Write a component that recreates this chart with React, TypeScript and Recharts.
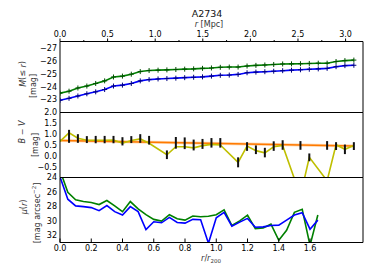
import React from 'react';
import { LineChart, Line, XAxis, YAxis, ErrorBar } from 'recharts';

const FONT = '"DejaVu Sans", sans-serif';

// ---- data ----
const mpcBins = [0, 0.095, 0.188, 0.282, 0.375, 0.469, 0.562, 0.656, 0.749, 0.843, 0.936, 1.03, 1.123, 1.217, 1.31, 1.404, 1.497, 1.591, 1.684, 1.778, 1.871, 1.965, 2.058, 2.152, 2.245, 2.339, 2.432, 2.526, 2.619, 2.713, 2.806, 2.9, 2.993, 3.087];
const magGreen = [-23.5, -23.65, -23.9, -24.05, -24.25, -24.45, -24.75, -24.82, -24.97, -25.17, -25.25, -25.28, -25.3, -25.33, -25.36, -25.38, -25.42, -25.45, -25.5, -25.52, -25.52, -25.6, -25.65, -25.68, -25.72, -25.76, -25.77, -25.78, -25.8, -25.82, -25.82, -25.95, -26.02, -26.06];
const magBlue = [-22.95, -23.1, -23.28, -23.45, -23.6, -23.78, -24.05, -24.12, -24.25, -24.45, -24.55, -24.6, -24.63, -24.66, -24.7, -24.73, -24.76, -24.82, -24.88, -24.9, -24.95, -25.08, -25.13, -25.16, -25.2, -25.24, -25.28, -25.31, -25.35, -25.38, -25.42, -25.55, -25.63, -25.66];
const bvColour = [0.67, 1.06, 0.81, 0.72, 0.72, 0.72, 0.73, 0.58, 0.71, 0.78, 0.58, null, 0.05, 0.42, 0.42, 0.37, 0.47, 0.53, 0.5, null, -0.3, 0.45, 0.24, 0.14, 0.42, 0.48, null, -1.85, -0.07, null, -1.15, 0.51, 0.3, 0.48];
const bvErrCentre = [null, 0.9, 0.8, 0.75, 0.75, 0.75, 0.75, 0.67, 0.75, 0.8, 0.72, null, 0.05, 0.6, 0.58, 0.5, 0.55, 0.6, 0.6, null, -0.3, 0.43, 0.28, 0.15, 0.45, 0.5, null, 0.48, -0.07, null, 0.48, 0.45, 0.3, 0.45];
const bvErrHalf = [null, 0.3, 0.2, 0.16, 0.17, 0.17, 0.17, 0.19, 0.16, 0.2, 0.2, null, 0.2, 0.27, 0.27, 0.25, 0.23, 0.22, 0.22, null, 0.23, 0.2, 0.2, 0.22, 0.22, 0.22, null, 0.2, 0.18, null, 0.2, 0.18, 0.22, 0.18];
const fitMpc = [0, 3.087];
const fitBV = [0.71, 0.45];
const r200Bins = [0, 0.05, 0.1, 0.15, 0.2, 0.25, 0.3, 0.35, 0.4, 0.45, 0.5, 0.55, 0.6, 0.65, 0.7, 0.75, 0.8, 0.85, 0.9, 0.95, 1.0, 1.05, 1.1, 1.15, 1.2, 1.25, 1.3, 1.35, 1.4, 1.45, 1.5, 1.55, 1.6, 1.65];
const muGreen = [23.0, 26.06, 27.09, 27.33, 27.47, 27.75, 27.19, 27.93, 28.73, 27.33, 28.35, 29.15, 29.8, 30.04, 29.15, 29.71, 29.9, 29.34, 29.43, 29.37, 29.15, 28.49, 30.65, 30.0, 29.2, 31.07, 30.98, 30.46, 32.7, 31.3, 28.82, 28.4, 33.4, 29.2];
const muBlue = [23.9, 27.0, 27.93, 28.03, 28.17, 28.59, 27.89, 28.73, 29.2, 28.03, 28.73, 31.2, 30.13, 30.27, 29.52, 30.22, 30.32, 29.8, 29.85, 33.1, 29.57, 28.82, 30.74, 30.18, 29.66, 30.88, 30.84, 30.65, 30.6, 29.9, 29.2, 28.87, 31.16, 29.9];

// ---- ticks ----
const mpcTicks = [0, 0.25, 0.5, 0.75, 1, 1.25, 1.5, 1.75, 2, 2.25, 2.5, 2.75, 3];
const edgeMajor = [0, 0.376, 0.752, 1.128, 1.504, 1.88, 2.256, 2.632, 3.008];
const edgeMinor = [0.188, 0.564, 0.94, 1.316, 1.692, 2.068, 2.444, 2.82];
const magTicks = [-27, -26, -25, -24, -23];
const bvTicks = [-0.5, 0, 0.5, 1, 1.5, 2];
const muTicks = [24, 26, 28, 30, 32];
const r200Ticks = [0, 0.2, 0.4, 0.6, 0.8, 1.0, 1.2, 1.4, 1.6];

const MPC_DOMAIN = [0, 3.183];
const R200_DOMAIN = [0, 1.939];

const topData = mpcBins.map((r, i) => ({ r, g: magGreen[i], b: magBlue[i] }));
const bvLine = mpcBins.map((r, i) => ({ r, v: bvColour[i] })).filter((d) => d.v !== null);
const bvErr = mpcBins.map((r, i) => ({ r, c: bvErrCentre[i], e: bvErrHalf[i] })).filter((d) => d.c !== null);
const fitData = fitMpc.map((r, i) => ({ r, v: fitBV[i] }));
const botData = r200Bins.map((r, i) => ({ r, g: muGreen[i], b: muBlue[i] }));

const fmt = (dec: number) => (v: number) => (v < 0 ? '\u2212' : '') + Math.abs(v).toFixed(dec);

const plus = (color: string) => (p: any) => {
  if (p.cx == null || p.cy == null) return <g key={`n${p.index}`} />;
  return (
    <path key={`m${p.index}`} d={`M${p.cx - 2.5},${p.cy}H${p.cx + 2.5}M${p.cx},${p.cy - 2.5}V${p.cy + 2.5}`} stroke={color} strokeWidth={1} fill="none" />
  );
};

const MpcTick = (p: any) => {
  const v = p.payload.value;
  const major = Math.abs(v * 2 - Math.round(v * 2)) < 1e-6;
  const axisY = p.y + 5;
  return (
    <g>
      <line x1={p.x} x2={p.x} y1={axisY} y2={axisY - (major ? 3 : 1.5)} stroke="#000" strokeWidth={1} />
      {major && (
        <text x={p.x} y={p.y} textAnchor="middle" fontSize={8} fontFamily={FONT} fill="#000">{v.toFixed(1)}</text>
      )}
    </g>
  );
};

const R200Tick = (p: any) => {
  const v = p.payload.value;
  const axisY = p.y - 8;
  return (
    <g>
      <line x1={p.x} x2={p.x} y1={axisY} y2={axisY - 4} stroke="#000" strokeWidth={1} />
      <text x={p.x} y={p.y} textAnchor="middle" fontSize={8} fontFamily={FONT} fill="#000">{v.toFixed(1)}</text>
    </g>
  );
};

const tickFont = { fontSize: 8, fill: '#000', fontFamily: FONT };
const black = { stroke: '#000', strokeWidth: 1 };

function edgeXAxes(withTop: boolean, withBottom: boolean) {
  const out: any[] = [];
  if (withTop) {
    out.push(<XAxis key="etA" xAxisId="etA" orientation="top" mirror type="number" domain={MPC_DOMAIN} allowDataOverflow ticks={edgeMajor} tick={false} tickSize={4} axisLine={black} tickLine={black} />);
    out.push(<XAxis key="etB" xAxisId="etB" orientation="top" mirror type="number" domain={MPC_DOMAIN} allowDataOverflow ticks={edgeMinor} tick={false} tickSize={2} axisLine={false} tickLine={black} />);
  }
  if (withBottom) {
    out.push(<XAxis key="ebA" xAxisId="ebA" orientation="bottom" mirror type="number" domain={MPC_DOMAIN} allowDataOverflow ticks={edgeMajor} tick={false} tickSize={4} axisLine={black} tickLine={black} />);
    out.push(<XAxis key="ebB" xAxisId="ebB" orientation="bottom" mirror type="number" domain={MPC_DOMAIN} allowDataOverflow ticks={edgeMinor} tick={false} tickSize={2} axisLine={false} tickLine={black} />);
  }
  return out;
}

function yAxes(id: string, domain: number[], ticks: number[], reversed: boolean, dec: number) {
  return [
    <YAxis key={id} yAxisId={id} type="number" domain={domain} reversed={reversed} allowDataOverflow ticks={ticks} width={60} tickLine={false} axisLine={false} tickSize={0} tickMargin={3} tick={tickFont} tickFormatter={fmt(dec)} interval={0} />,
    <YAxis key={id + 'L'} yAxisId={id + 'L'} type="number" domain={domain} reversed={reversed} allowDataOverflow ticks={ticks} mirror tick={false} tickSize={4} axisLine={black} tickLine={black} />,
    <YAxis key={id + 'R'} yAxisId={id + 'R'} orientation="right" type="number" domain={domain} reversed={reversed} allowDataOverflow ticks={ticks} mirror tick={false} tickSize={4} axisLine={black} tickLine={black} />,
  ];
}

const layer: React.CSSProperties = { position: 'absolute', left: 0, top: 0, width: 374, height: 280 };

export default function App() {
  return (
    <div style={{ position: 'absolute', left: 0, top: 0, width: 374, height: 280, background: '#fff', fontFamily: FONT }}>
      {/* top panel */}
      <div style={layer}>
        <LineChart width={374} height={280} data={topData} margin={{ top: 0, right: 11, bottom: 167.5, left: 0 }}>
          <XAxis xAxisId="mpc" orientation="top" type="number" dataKey="r" domain={MPC_DOMAIN} allowDataOverflow ticks={mpcTicks} height={41.5} tickSize={0} tickMargin={5} tickLine={false} axisLine={false} tick={<MpcTick />} interval={0} />
          {edgeXAxes(true, true)}
          {yAxes('mag', [-27.5, -22], magTicks, true, 0)}
          <Line xAxisId="mpc" yAxisId="mag" dataKey="g" stroke="#008000" strokeWidth={1.6} dot={plus('#005000')} isAnimationActive={false} />
          <Line xAxisId="mpc" yAxisId="mag" dataKey="b" stroke="#0000ff" strokeWidth={1.6} dot={plus('#000080')} isAnimationActive={false} />
        </LineChart>
      </div>
      {/* middle panel */}
      <div style={layer}>
        <LineChart width={374} height={280} margin={{ top: 112.5, right: 11, bottom: 102.5, left: 0 }}>
          <XAxis xAxisId="mpc" hide type="number" dataKey="r" domain={MPC_DOMAIN} allowDataOverflow />
          {edgeXAxes(true, true)}
          {yAxes('bv', [-1, 2], bvTicks, false, 1)}
          <Line xAxisId="mpc" yAxisId="bv" data={fitData} dataKey="v" stroke="#ffcc99" strokeWidth={3} strokeOpacity={0.8} dot={false} isAnimationActive={false} />
          <Line xAxisId="mpc" yAxisId="bv" data={fitData} dataKey="v" stroke="#ff7a00" strokeWidth={1.5} dot={false} isAnimationActive={false} />
          <Line xAxisId="mpc" yAxisId="bv" data={bvLine} dataKey="v" stroke="#bfbf00" strokeWidth={1.6} dot={false} isAnimationActive={false} />
          <Line xAxisId="mpc" yAxisId="bv" data={bvErr} dataKey="c" stroke="none" dot={false} isAnimationActive={false}>
            <ErrorBar dataKey="e" width={0} stroke="#111" strokeWidth={2} direction="y" isAnimationActive={false} />
          </Line>
        </LineChart>
      </div>
      {/* bottom panel */}
      <div style={layer}>
        <LineChart width={374} height={280} data={botData} margin={{ top: 177.5, right: 11, bottom: 0, left: 0 }}>
          <XAxis xAxisId="rr" orientation="bottom" type="number" dataKey="r" domain={R200_DOMAIN} allowDataOverflow ticks={r200Ticks} height={37.5} tickSize={0} tickMargin={8} tickLine={false} axisLine={black} tick={<R200Tick />} interval={0} />
          {edgeXAxes(true, false)}
          {yAxes('mu', [24, 33], muTicks, true, 0)}
          <Line xAxisId="rr" yAxisId="mu" dataKey="g" stroke="#008000" strokeWidth={1.6} dot={false} isAnimationActive={false} />
          <Line xAxisId="rr" yAxisId="mu" dataKey="b" stroke="#0000ff" strokeWidth={1.6} dot={false} isAnimationActive={false} />
        </LineChart>
      </div>
      {/* text overlay */}
      <svg width={374} height={280} style={{ ...layer, pointerEvents: 'none' }} fontFamily={FONT}>
        <text x={207} y={17.3} fontSize={9.5} textAnchor="middle" fill="#111">A2734</text>
        <text x={209} y={27} fontSize={8} textAnchor="middle" fill="#333"><tspan fontStyle="italic">r</tspan> [Mpc]</text>
        <text transform="translate(22.5,74) rotate(-90)" fontSize={8} textAnchor="middle" dominantBaseline="central" fill="#333"><tspan fontStyle="italic">M</tspan>(≤ <tspan fontStyle="italic">r</tspan>)</text>
        <text transform="translate(33,86) rotate(-90)" fontSize={8} textAnchor="middle" dominantBaseline="central" fill="#333">[mag]</text>
        <text transform="translate(22,132) rotate(-90)" fontSize={8} textAnchor="middle" dominantBaseline="central" fill="#333"><tspan fontStyle="italic">B</tspan> − <tspan fontStyle="italic">V</tspan></text>
        <text transform="translate(35,145) rotate(-90)" fontSize={8} textAnchor="middle" dominantBaseline="central" fill="#333">[mag]</text>
        <text transform="translate(23.5,207) rotate(-90)" fontSize={8} textAnchor="middle" dominantBaseline="central" fill="#333"><tspan fontStyle="italic">μ</tspan>(<tspan fontStyle="italic">r</tspan>)</text>
        <text transform="translate(37,213) rotate(-90)" fontSize={8} textAnchor="middle" dominantBaseline="central" fill="#333">[mag arcsec<tspan fontSize={5.5} dy={-3}>−2</tspan><tspan dy={3}>]</tspan></text>
        <text x={211} y={261} fontSize={8} textAnchor="middle" fill="#333"><tspan fontStyle="italic">r</tspan>/<tspan fontStyle="italic">r</tspan><tspan fontSize={5.5} dy={2}>200</tspan></text>
      </svg>
    </div>
  );
}
